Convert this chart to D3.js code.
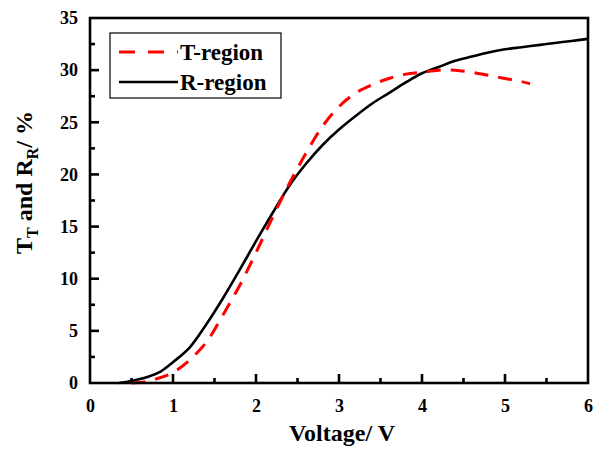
<!DOCTYPE html>
<html>
<head>
<meta charset="utf-8">
<script src="https://cdn.jsdelivr.net/npm/d3@7"></script>
<style>
  body { margin: 0; background: #fff; }
  text { font-family: "Liberation Serif", "Times New Roman", serif; font-weight: bold; }
</style>
</head>
<body>
<div id="chart"></div>
<script>
// data
const rVolt = [0.35, 0.5, 0.7, 0.85, 1.0, 1.2, 1.4, 1.6, 1.8, 2.0, 2.2, 2.4, 2.6, 2.8, 3.0, 3.2, 3.4, 3.6, 3.8, 4.0, 4.2, 4.4, 4.6, 4.8, 5.0, 5.2, 5.4, 5.6, 5.8, 6.0];
const rVal  = [0, 0.2, 0.6, 1.1, 2.0, 3.4, 5.6, 8.1, 10.8, 13.6, 16.3, 18.9, 21.0, 22.8, 24.3, 25.6, 26.8, 27.8, 28.8, 29.7, 30.3, 30.9, 31.3, 31.7, 32.0, 32.2, 32.4, 32.6, 32.8, 33.0];
const tVolt = [0.5, 0.65, 0.8, 1.0, 1.2, 1.4, 1.6, 1.8, 2.0, 2.2, 2.4, 2.6, 2.8, 3.0, 3.2, 3.4, 3.6, 3.8, 4.0, 4.2, 4.4, 4.6, 4.8, 5.0, 5.2, 5.3];
const tVal  = [0, 0.1, 0.4, 1.0, 2.2, 3.9, 6.5, 9.3, 12.5, 15.9, 19.1, 22.0, 24.6, 26.5, 27.8, 28.6, 29.2, 29.6, 29.8, 30.0, 30.0, 29.8, 29.5, 29.2, 28.9, 28.7];
const xTicks = [0, 1, 2, 3, 4, 5, 6];
const yTicks = [0, 5, 10, 15, 20, 25, 30, 35];
const seriesNames = ["T-region", "R-region"];

const margin = {l: 90, r: 14, t: 18, b: 67};
const W = 602, H = 450;
const plotW = W - margin.l - margin.r;
const plotH = H - margin.t - margin.b;

let outer = d3.select("#chart").append("svg")
    .attr("width", W).attr("height", H);
outer.append("rect").attr("width", W).attr("height", H).attr("fill", "#fff");
let svg = outer.append("g").attr("transform", `translate(${margin.l},${margin.t})`);

let x = d3.scaleLinear().domain([0, 6]).range([0, plotW]);
let y = d3.scaleLinear().domain([0, 35]).range([plotH, 0]);

// curves
let lineGen = d3.line().x(d => x(d[0])).y(d => y(d[1])).curve(d3.curveCatmullRom);
let rData = rVolt.map((v, i) => [v, rVal[i]]);
let tData = tVolt.map((v, i) => [v, tVal[i]]);

svg.append("path").datum(rData).attr("d", lineGen)
    .attr("fill", "none").attr("stroke", "#000").attr("stroke-width", 2.6);
svg.append("path").datum(tData).attr("d", lineGen)
    .attr("fill", "none").attr("stroke", "#ff0000").attr("stroke-width", 3)
    .attr("stroke-dasharray", "14,10");

// tick labels from the axis generators
let xAxis = svg.append("g").attr("transform", `translate(0,${plotH})`)
    .call(d3.axisBottom(x).tickValues(xTicks).tickSize(0).tickPadding(16).tickFormat(d3.format("d")));
let yAxis = svg.append("g")
    .call(d3.axisLeft(y).tickValues(yTicks).tickSize(0).tickPadding(12).tickFormat(d3.format("d")));
[xAxis, yAxis].forEach(g => {
    g.select(".domain").remove();
    g.selectAll(".tick line").remove();
    g.selectAll(".tick text").style("fill", "#000").style("font-size", "18px")
        .style("font-family", "'Liberation Serif', serif").style("font-weight", "bold");
});

// inward tick marks, drawn as small filled rects
let xMarks = xTicks.slice(1, -1).map(v => ({v: v, len: 9}))
    .concat(d3.range(0.5, 6, 1).map(v => ({v: v, len: 5})));
let yMarks = yTicks.slice(1, -1).map(v => ({v: v, len: 9}))
    .concat(d3.range(2.5, 35, 5).map(v => ({v: v, len: 5})));
let marks = svg.append("g").attr("fill", "#000");
marks.selectAll(".xm").data(xMarks).join("rect").attr("class", "xm")
    .attr("x", d => x(d.v) - 1.3).attr("y", d => plotH - d.len)
    .attr("width", 2.6).attr("height", d => d.len);
marks.selectAll(".ym").data(yMarks).join("rect").attr("class", "ym")
    .attr("x", 0).attr("y", d => y(d.v) - 1.3)
    .attr("width", d => d.len).attr("height", 2.6);

// frame
svg.append("rect").attr("width", plotW).attr("height", plotH)
    .attr("fill", "none").attr("stroke", "#000").attr("stroke-width", 2.6);

// legend
let lg = svg.append("g").attr("transform", "translate(20,15)");
lg.append("rect").attr("width", 171).attr("height", 65)
    .attr("fill", "#fff").attr("stroke", "#000").attr("stroke-width", 1.2);
lg.append("line").attr("x1", 9).attr("x2", 68).attr("y1", 19).attr("y2", 19)
    .attr("stroke", "#ff0000").attr("stroke-width", 3).attr("stroke-dasharray", "16,13");
lg.append("line").attr("x1", 9).attr("x2", 68).attr("y1", 49).attr("y2", 49)
    .attr("stroke", "#000").attr("stroke-width", 2.6);
lg.selectAll("text.lab").data(seriesNames).enter().append("text")
    .attr("class", "lab")
    .attr("x", 70).attr("y", (d, i) => 27 + i * 30)
    .attr("font-size", 23).text(d => d);

// axis titles
svg.append("text").attr("x", plotW / 2 + 3).attr("y", plotH + 58)
    .attr("text-anchor", "middle").attr("font-size", 24).text("Voltage/ V");

let yt = svg.append("text")
    .attr("transform", `translate(-58,${plotH / 2 - 18}) rotate(-90)`)
    .attr("text-anchor", "middle").attr("font-size", 24);
yt.append("tspan").text("T");
yt.append("tspan").attr("font-size", 16).attr("dy", 6).text("T");
yt.append("tspan").attr("dy", -6).text(" and R");
yt.append("tspan").attr("font-size", 16).attr("dy", 6).text("R");
yt.append("tspan").attr("dy", -6).text("/ %");
</script>
</body>
</html>
